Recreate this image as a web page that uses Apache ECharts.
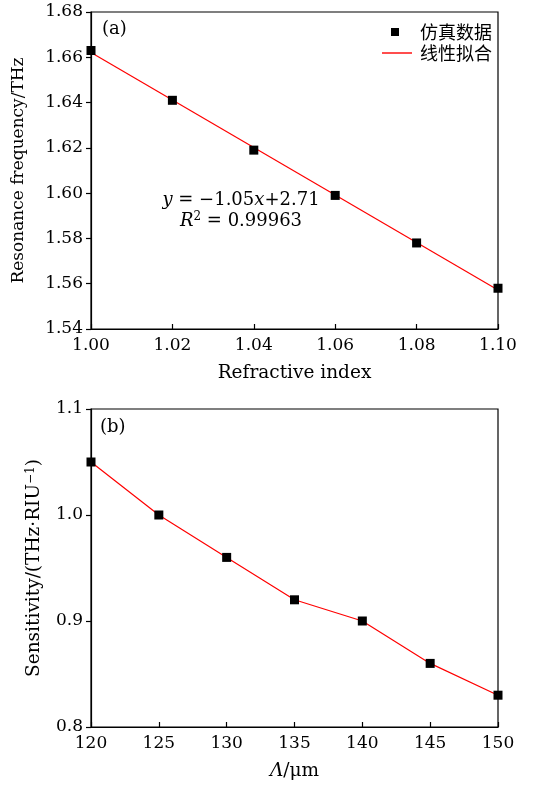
<!DOCTYPE html>
<html>
<head>
<meta charset="utf-8">
<script src="https://cdn.jsdelivr.net/npm/echarts@6/dist/echarts.min.js"></script>
<style>
  html, body { margin: 0; padding: 0; background: #fff; }
  #chart { width: 534px; height: 785px; }
</style>
</head>
<body>
<div id="chart"></div>
<script>
// (a) resonance frequency vs refractive index
const refractiveIndex = [1.00, 1.02, 1.04, 1.06, 1.08, 1.10];
const resonanceFreq = [1.663, 1.641, 1.619, 1.599, 1.578, 1.558];

// (b) sensitivity vs period
const periodUm = [120, 125, 130, 135, 140, 145, 150];
const sensitivity = [1.05, 1.00, 0.96, 0.92, 0.90, 0.86, 0.83];

// axis ranges
const indexAxis = { min: 1.00, max: 1.10, step: 0.02, digits: 2 };
const freqAxis = { min: 1.54, max: 1.68, step: 0.02, digits: 2 };
const periodAxis = { min: 120, max: 150, step: 5, digits: 0 };
const sensAxis = { min: 0.8, max: 1.1, step: 0.1, digits: 1 };

const legendNames = ['仿真数据', '线性拟合'];

// least-squares line through the simulated points
function linearFit(xs, ys) {
  const n = xs.length;
  const mx = xs.reduce((a, b) => a + b, 0) / n;
  const my = ys.reduce((a, b) => a + b, 0) / n;
  let sxy = 0, sxx = 0;
  for (let i = 0; i < n; i++) {
    sxy += (xs[i] - mx) * (ys[i] - my);
    sxx += (xs[i] - mx) * (xs[i] - mx);
  }
  const k = sxy / sxx;
  return { k, b: my - k * mx };
}
const fit = linearFit(refractiveIndex, resonanceFreq);
const fitLine = [indexAxis.min, indexAxis.max].map(x => [x, fit.k * x + fit.b]);

const SERIF = 'DejaVu Serif';
const CJK = 'Noto Sans CJK SC';
const RED = '#ff0000';

function valueAxis(r, extra) {
  return Object.assign({
    type: 'value',
    min: r.min, max: r.max, interval: r.step,
    splitLine: { show: false },
    axisLine: { show: true, onZero: false, lineStyle: { color: '#000', width: 1.2 } },
    axisTick: { show: true, length: 5, lineStyle: { color: '#000', width: 1.2 } },
    axisLabel: {
      color: '#000', fontFamily: SERIF, fontSize: 17, margin: 8,
      formatter: v => v.toFixed(r.digits)
    },
    nameLocation: 'middle',
    nameTextStyle: { color: '#000', fontFamily: SERIF, fontSize: 17 }
  }, extra);
}

const innerTick = { show: true, inside: true, length: 5, lineStyle: { color: '#000', width: 1.2 } };

const chart = echarts.init(document.getElementById('chart'), null, { renderer: 'canvas' });

chart.setOption({
  backgroundColor: '#fff',
  animation: false,
  grid: [
    { left: 91, top: 12, width: 407, height: 317, show: true, borderColor: '#000', borderWidth: 1.2, backgroundColor: 'transparent' },
    { left: 91, top: 409, width: 407, height: 318, show: true, borderColor: '#000', borderWidth: 1.2, backgroundColor: 'transparent' }
  ],
  xAxis: [
    valueAxis(indexAxis, {
      gridIndex: 0, name: 'Refractive index', nameGap: 35, axisTick: innerTick,
      nameTextStyle: { color: '#000', fontFamily: SERIF, fontSize: 18.5 }
    }),
    valueAxis(periodAxis, {
      gridIndex: 1, name: '{it|Λ}/μm', nameGap: 35, axisTick: innerTick,
      nameTextStyle: {
        color: '#000', fontFamily: SERIF, fontSize: 18.5,
        rich: { it: { fontFamily: SERIF, fontStyle: 'italic', fontSize: 18.5, color: '#000' } }
      }
    })
  ],
  yAxis: [
    valueAxis(freqAxis, { gridIndex: 0, name: 'Resonance frequency/THz', nameGap: 64 }),
    valueAxis(sensAxis, {
      gridIndex: 1, name: 'Sensitivity/(THz·RIU{sup|−1})', nameGap: 47,
      nameTextStyle: {
        color: '#000', fontFamily: SERIF, fontSize: 18.5,
        rich: { sup: { fontFamily: SERIF, fontSize: 12, color: '#000', verticalAlign: 'top', padding: [0, 0, 7, 0] } }
      }
    })
  ],
  legend: [
    {
      data: [legendNames[0]], left: 391, top: 23, padding: 0, itemWidth: 8, itemHeight: 8, icon: 'rect',
      itemStyle: { color: '#000', opacity: 1 },
      textStyle: { fontFamily: CJK, fontSize: 18, color: '#000', padding: [0, 0, 0, 16] },
      selectedMode: false
    },
    {
      data: [legendNames[1]], left: 382, top: 44, padding: 0, itemWidth: 30, itemHeight: 1.4, icon: 'rect',
      itemStyle: { color: RED },
      textStyle: { fontFamily: CJK, fontSize: 18, color: '#000', padding: [0, 0, 0, 3] },
      selectedMode: false
    }
  ],
  graphic: [
    { type: 'text', left: 102, top: 20, style: { text: '(a)', font: '18px "DejaVu Serif"', fill: '#000' } },
    { type: 'text', left: 100, top: 418, style: { text: '(b)', font: '18px "DejaVu Serif"', fill: '#000' } },
    {
      type: 'text', x: 241, y: 211,
      style: {
        text: '{it|y} = −1.05{it|x}+2.71\n{it|R}{sup|2} = 0.99963',
        align: 'center', verticalAlign: 'middle', lineHeight: 21,
        font: '18px "DejaVu Serif"', fill: '#000',
        rich: {
          it: { fontFamily: SERIF, fontStyle: 'italic', fontSize: 18, fill: '#000' },
          sup: { fontFamily: SERIF, fontSize: 12, fill: '#000', verticalAlign: 'top', padding: [0, 0, 6, 0] }
        }
      }
    }
  ],
  series: [
    {
      name: legendNames[1], type: 'line', xAxisIndex: 0, yAxisIndex: 0,
      data: fitLine, showSymbol: false, symbol: 'none',
      lineStyle: { color: RED, width: 1.2 }, itemStyle: { color: RED }, z: 2
    },
    {
      name: legendNames[0], type: 'scatter', xAxisIndex: 0, yAxisIndex: 0,
      data: refractiveIndex.map((x, i) => [x, resonanceFreq[i]]),
      symbol: 'rect', symbolSize: 9, itemStyle: { color: '#000', opacity: 1 }, z: 3
    },
    {
      name: 'sensitivity', type: 'line', xAxisIndex: 1, yAxisIndex: 1,
      data: periodUm.map((x, i) => [x, sensitivity[i]]),
      symbol: 'rect', symbolSize: 9, showAllSymbol: true,
      lineStyle: { color: RED, width: 1.2 }, itemStyle: { color: '#000', opacity: 1 }, z: 3
    }
  ]
});
</script>
</body>
</html>
